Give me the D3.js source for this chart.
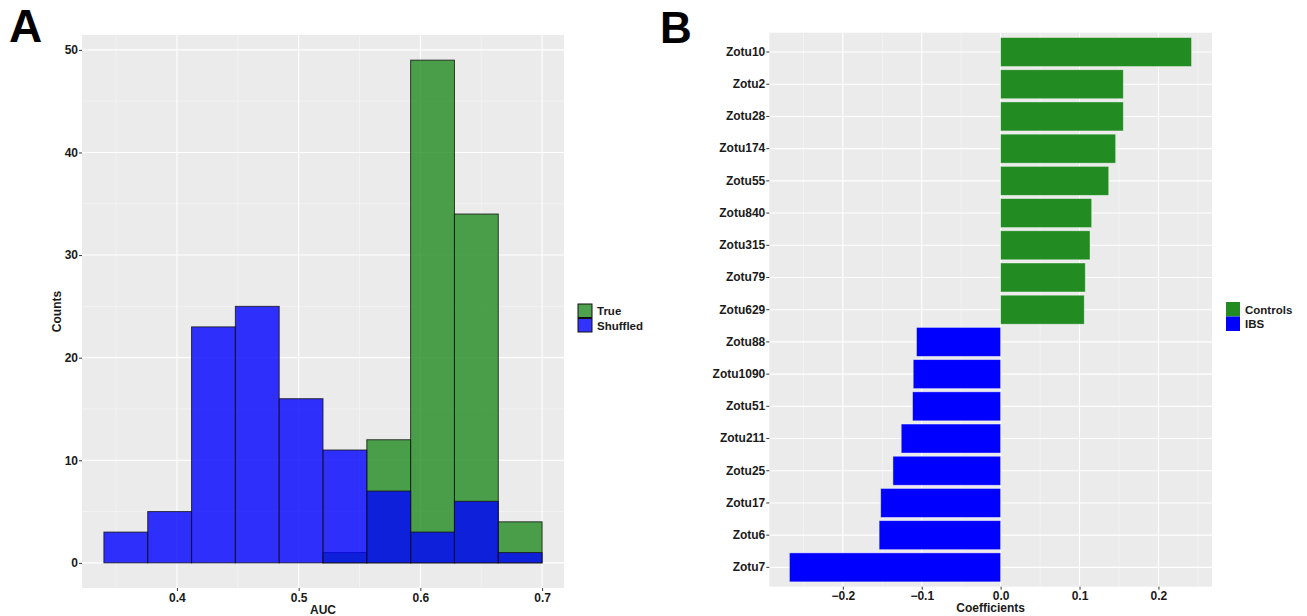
<!DOCTYPE html>
<html>
<head>
<meta charset="utf-8">
<script src="https://cdn.jsdelivr.net/npm/d3@7"></script>
<style>
  body { margin: 0; background: #fff; }
  svg { font-family: "Liberation Sans", Arial, sans-serif; }
  .tick text { font-weight: bold; fill: #1a1a1a; font-size: 12px; }
  .tick line { stroke: #333; }
  .domain { display: none; }
</style>
</head>
<body>
<div id="chart"></div>
<script>
// panel A data: histogram of AUC, bin edges and counts
var aucBinEdges = [0.34, 0.376, 0.412, 0.448, 0.484, 0.52, 0.556, 0.592, 0.628, 0.664, 0.70];
var trueCounts = [0, 0, 0, 0, 0, 1, 12, 49, 34, 4];
var shuffledCounts = [3, 5, 23, 25, 16, 11, 7, 3, 6, 1];
var aucTicks = [0.4, 0.5, 0.6, 0.7];
var countTicks = [0, 10, 20, 30, 40, 50];

// panel B data: coefficients per Zotu
var zotuNames = ["Zotu10", "Zotu2", "Zotu28", "Zotu174", "Zotu55", "Zotu840", "Zotu315", "Zotu79", "Zotu629",
                 "Zotu88", "Zotu1090", "Zotu51", "Zotu211", "Zotu25", "Zotu17", "Zotu6", "Zotu7"];
var coefValues = [0.242, 0.1555, 0.1555, 0.1458, 0.137, 0.1154, 0.1133, 0.1073, 0.106,
                  -0.1066, -0.1108, -0.1116, -0.126, -0.1365, -0.152, -0.154, -0.2677];
var coefTicks = [-0.2, -0.1, 0.0, 0.1, 0.2];

var svg = d3.select("#chart").append("svg")
    .attr("width", 1307)
    .attr("height", 616);

// ---------------- Panel A ----------------
var aLeft = 82, aRight = 564, aTop = 35, aBottom = 588;
var ax = d3.scaleLinear().domain([0.322, 0.718]).range([aLeft, aRight]);
var ay = d3.scaleLinear().domain([-2.45, 51.45]).range([aBottom, aTop]);

var gA = svg.append("g");
gA.append("rect")
    .attr("x", aLeft).attr("y", aTop)
    .attr("width", aRight - aLeft).attr("height", aBottom - aTop)
    .attr("fill", "#EBEBEB");

// minor grid
[0.35, 0.45, 0.55, 0.65].forEach(function(v) {
  gA.append("line").attr("x1", ax(v)).attr("x2", ax(v)).attr("y1", aTop).attr("y2", aBottom)
    .attr("stroke", "#fff").attr("stroke-width", 0.5).attr("opacity", 0.8);
});
[5, 15, 25, 35, 45].forEach(function(v) {
  gA.append("line").attr("x1", aLeft).attr("x2", aRight).attr("y1", ay(v)).attr("y2", ay(v))
    .attr("stroke", "#fff").attr("stroke-width", 0.5).attr("opacity", 0.8);
});
// major grid
aucTicks.forEach(function(v) {
  gA.append("line").attr("x1", ax(v)).attr("x2", ax(v)).attr("y1", aTop).attr("y2", aBottom)
    .attr("stroke", "#fff").attr("stroke-width", 1.1);
});
countTicks.forEach(function(v) {
  gA.append("line").attr("x1", aLeft).attr("x2", aRight).attr("y1", ay(v)).attr("y2", ay(v))
    .attr("stroke", "#fff").attr("stroke-width", 1.1);
});

function drawHist(counts, color) {
  gA.append("g").selectAll("rect")
    .data(counts.map(function(c, i) { return {x0: aucBinEdges[i], x1: aucBinEdges[i + 1], n: c}; })
      .filter(function(d) { return d.n > 0; }))
    .enter().append("rect")
      .attr("x", function(d) { return ax(d.x0); })
      .attr("width", function(d) { return ax(d.x1) - ax(d.x0); })
      .attr("y", function(d) { return ay(d.n); })
      .attr("height", function(d) { return ay(0) - ay(d.n); })
      .attr("fill", color)
      .attr("fill-opacity", 0.8)
      .attr("stroke", "#111")
      .attr("stroke-opacity", 0.8)
      .attr("stroke-width", 1);
}
drawHist(trueCounts, "#228B22");
drawHist(shuffledCounts, "#0000FF");

gA.append("g")
    .attr("transform", "translate(0," + aBottom + ")")
    .call(d3.axisBottom(ax).tickValues(aucTicks).tickFormat(d3.format(".1f")).tickSize(3).tickPadding(2));
gA.append("g")
    .attr("transform", "translate(" + aLeft + ",0)")
    .call(d3.axisLeft(ay).tickValues(countTicks).tickSize(3).tickPadding(1));

gA.append("text").text("AUC")
    .attr("x", (aLeft + aRight) / 2).attr("y", 614)
    .attr("text-anchor", "middle").style("font-size", "12px").style("font-weight", "bold").attr("fill", "#1a1a1a");
gA.append("text").text("Counts")
    .attr("transform", "translate(61," + (aTop + aBottom) / 2 + ") rotate(-90)")
    .attr("text-anchor", "middle").style("font-size", "12px").style("font-weight", "bold").attr("fill", "#1a1a1a");

// legend A
var legA = [{name: "True", color: "#228B22"}, {name: "Shuffled", color: "#0000FF"}];
legA.forEach(function(d, i) {
  gA.append("rect").attr("x", 578).attr("y", 304 + i * 14.5).attr("width", 14).attr("height", 13.5)
    .attr("fill", d.color).attr("fill-opacity", 0.8).attr("stroke", "#111").attr("stroke-width", 1);
  gA.append("text").text(d.name).attr("x", 597).attr("y", 315 + i * 14.5)
    .style("font-size", "11.5px").style("font-weight", "bold").attr("fill", "#1a1a1a");
});

svg.append("text").text("A").attr("x", 9).attr("y", 41.7)
  .style("font-size", "46px").style("font-weight", "bold").attr("fill", "#000");

// ---------------- Panel B ----------------
var bLeft = 769.3, bRight = 1212, bTop = 32.7, bBottom = 586.7;
var bx = d3.scaleLinear().domain([-0.2932, 0.2679]).range([bLeft, bRight]);
var unit = (bBottom - bTop) / 17.2;
var by = d3.scaleBand().domain(zotuNames)
    .range([bTop + 0.1 * unit, bBottom - 0.1 * unit])
    .paddingInner(0.1).paddingOuter(0.05);

var gB = svg.append("g");
gB.append("rect")
    .attr("x", bLeft).attr("y", bTop)
    .attr("width", bRight - bLeft).attr("height", bBottom - bTop)
    .attr("fill", "#EBEBEB");

[-0.25, -0.15, -0.05, 0.05, 0.15, 0.25].forEach(function(v) {
  gB.append("line").attr("x1", bx(v)).attr("x2", bx(v)).attr("y1", bTop).attr("y2", bBottom)
    .attr("stroke", "#fff").attr("stroke-width", 0.5).attr("opacity", 0.8);
});
coefTicks.forEach(function(v) {
  gB.append("line").attr("x1", bx(v)).attr("x2", bx(v)).attr("y1", bTop).attr("y2", bBottom)
    .attr("stroke", "#fff").attr("stroke-width", 1.1);
});
zotuNames.forEach(function(n) {
  var yc = by(n) + by.bandwidth() / 2;
  gB.append("line").attr("x1", bLeft).attr("x2", bRight).attr("y1", yc).attr("y2", yc)
    .attr("stroke", "#fff").attr("stroke-width", 1.1);
});

gB.append("g").selectAll("rect")
  .data(zotuNames.map(function(n, i) { return {name: n, v: coefValues[i]}; }))
  .enter().append("rect")
    .attr("x", function(d) { return bx(Math.min(0, d.v)); })
    .attr("width", function(d) { return Math.abs(bx(d.v) - bx(0)); })
    .attr("y", function(d) { return by(d.name); })
    .attr("height", by.bandwidth())
    .attr("fill", function(d) { return d.v > 0 ? "#228B22" : "#0000FF"; })
    .attr("stroke", "#fff")
    .attr("stroke-opacity", 0.5)
    .attr("stroke-width", 0.8);

gB.append("g")
    .attr("transform", "translate(0," + bBottom + ")")
    .call(d3.axisBottom(bx).tickValues(coefTicks).tickFormat(function(d) { return d3.format(".1f")(d).replace("-", "\u2212"); }).tickSize(3).tickPadding(2));
gB.append("g")
    .attr("transform", "translate(" + bLeft + ",0)")
    .call(d3.axisLeft(by).tickSize(3).tickPadding(1));

gB.append("text").text("Coefficients")
    .attr("x", (bLeft + bRight) / 2).attr("y", 612)
    .attr("text-anchor", "middle").style("font-size", "12px").style("font-weight", "bold").attr("fill", "#1a1a1a");

var legB = [{name: "Controls", color: "#228B22"}, {name: "IBS", color: "#0000FF"}];
legB.forEach(function(d, i) {
  gB.append("rect").attr("x", 1226).attr("y", 302 + i * 14.5).attr("width", 14).attr("height", 14.5)
    .attr("fill", d.color);
  gB.append("text").text(d.name).attr("x", 1245).attr("y", 313.5 + i * 14.5)
    .style("font-size", "11.5px").style("font-weight", "bold").attr("fill", "#1a1a1a");
});

svg.append("text").text("B").attr("x", 660).attr("y", 43)
  .style("font-size", "44px").style("font-weight", "bold").attr("fill", "#000");
</script>
</body>
</html>
